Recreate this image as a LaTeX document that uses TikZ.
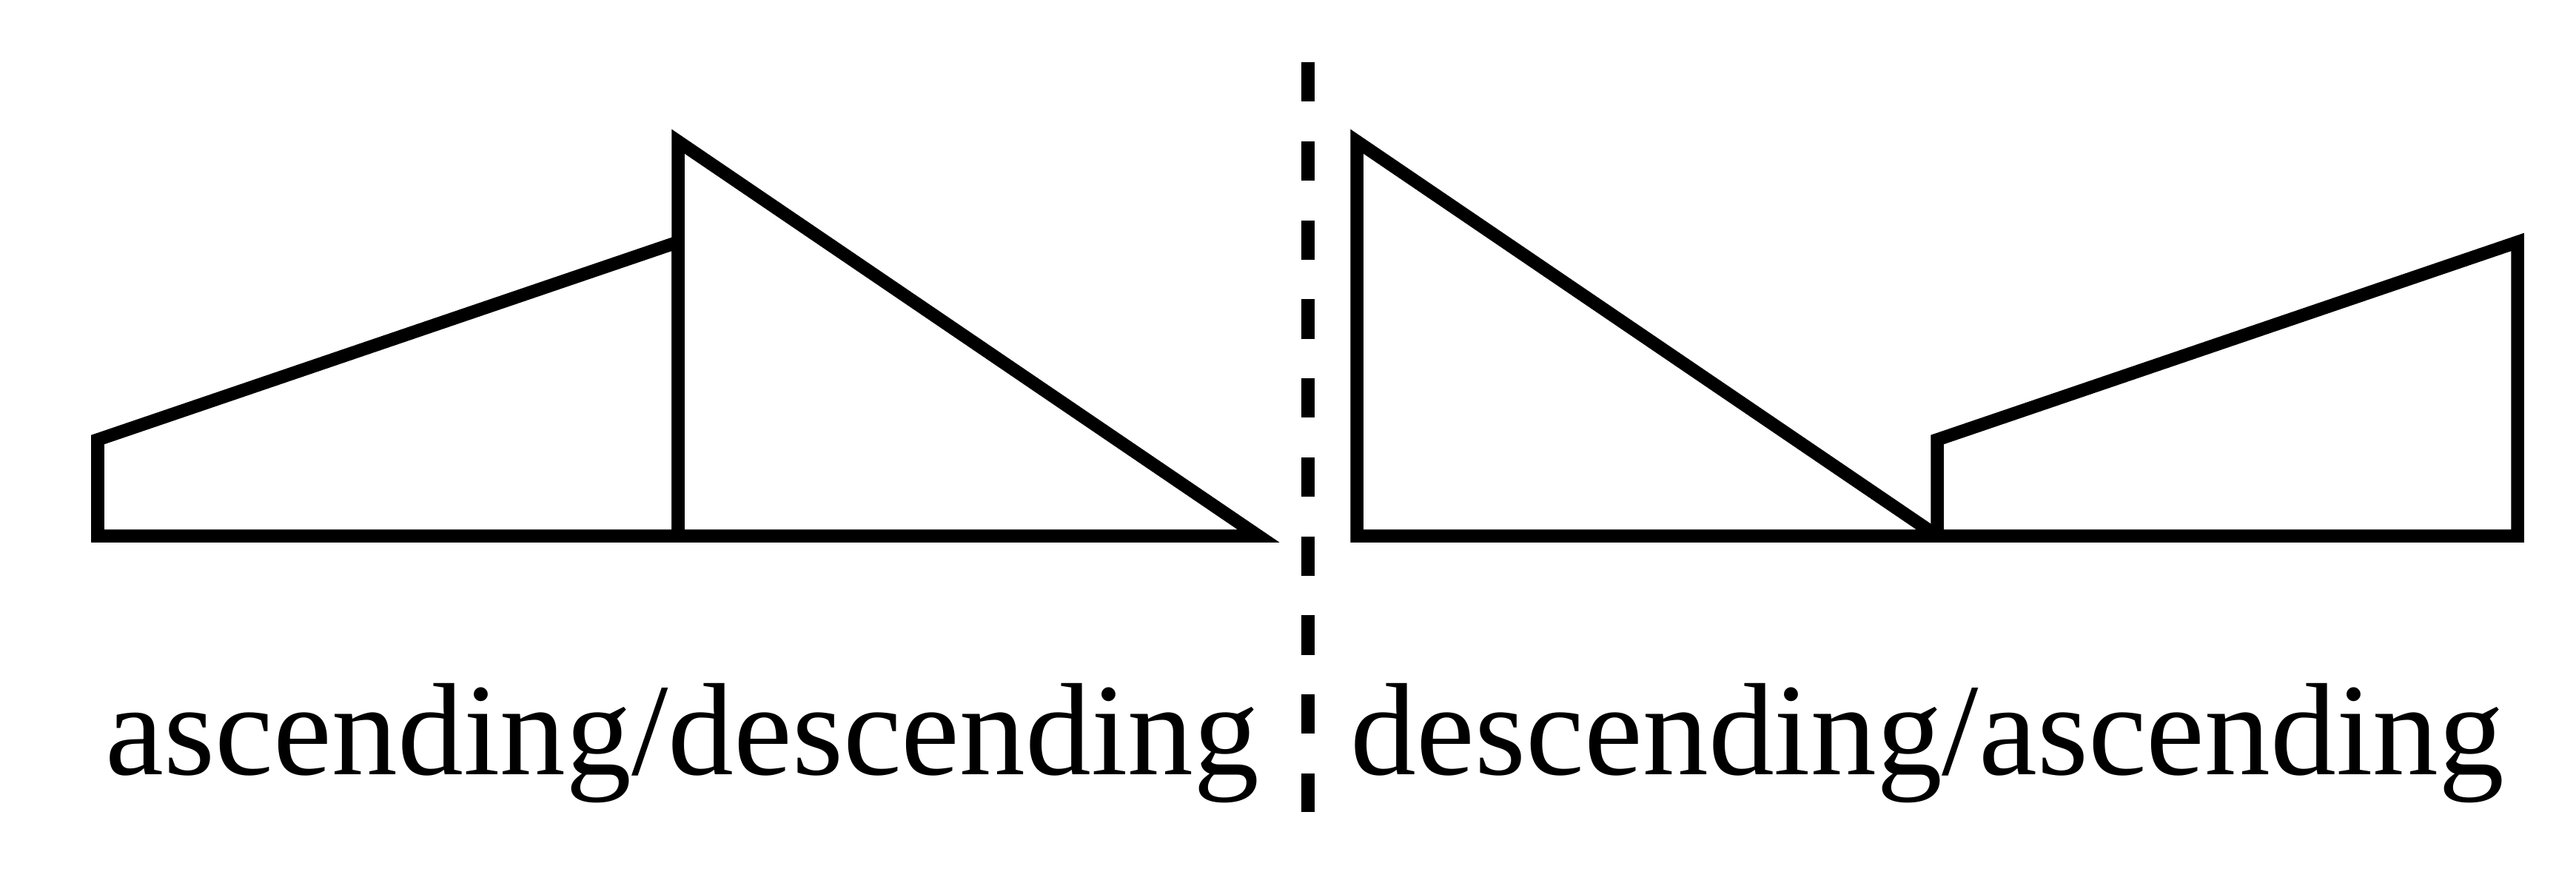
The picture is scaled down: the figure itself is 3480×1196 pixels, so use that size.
\documentclass[tikz,border=0pt]{standalone}
\usepackage{fontspec}
\setmainfont{Liberation Serif}
\begin{document}
\begin{tikzpicture}[x=0.01cm,y=-0.01cm,
  outline/.style={draw=black,line width=0.175cm,line join=miter,miter limit=10},
  divider/.style={draw=black,line width=0.18cm,dash pattern=on 0.533cm off 0.534cm},
  caption/.style={anchor=base,inner sep=0pt,font=\fontsize{50.5}{60}\selectfont}]
\useasboundingbox[fill=white] (0,0) rectangle (3480,1196);
% left group
\coordinate (lt1) at (132,724);
\coordinate (lt2) at (132,594);
\coordinate (lt3) at (916,327);
\coordinate (lt4) at (916,724);
\coordinate (lr1) at (916,191);
\coordinate (lr2) at (1700,724);
\draw[outline] (lt1) -- (lt2) -- (lt3) -- (lt4) -- cycle;
\draw[outline] (lr1) -- (lr2) -- (lt4) -- cycle;
% right group
\coordinate (rr1) at (1833,191);
\coordinate (rr2) at (2617,724);
\coordinate (rr3) at (1833,724);
\coordinate (rt2) at (2617,594);
\coordinate (rt3) at (3401,327);
\coordinate (rt4) at (3401,724);
\draw[outline] (rr1) -- (rr2) -- (rr3) -- cycle;
\draw[outline] (rr2) -- (rt2) -- (rt3) -- (rt4) -- cycle;
% divider
\coordinate (dtop) at (1767,84);
\coordinate (dbot) at (1767,1097);
\draw[divider] (dtop) -- (dbot);
% captions
\node[caption] (capl) at (922,1046) {ascending/descending};
\node[caption] (capr) at (2604,1046) {descending/ascending};
\end{tikzpicture}
\end{document}
